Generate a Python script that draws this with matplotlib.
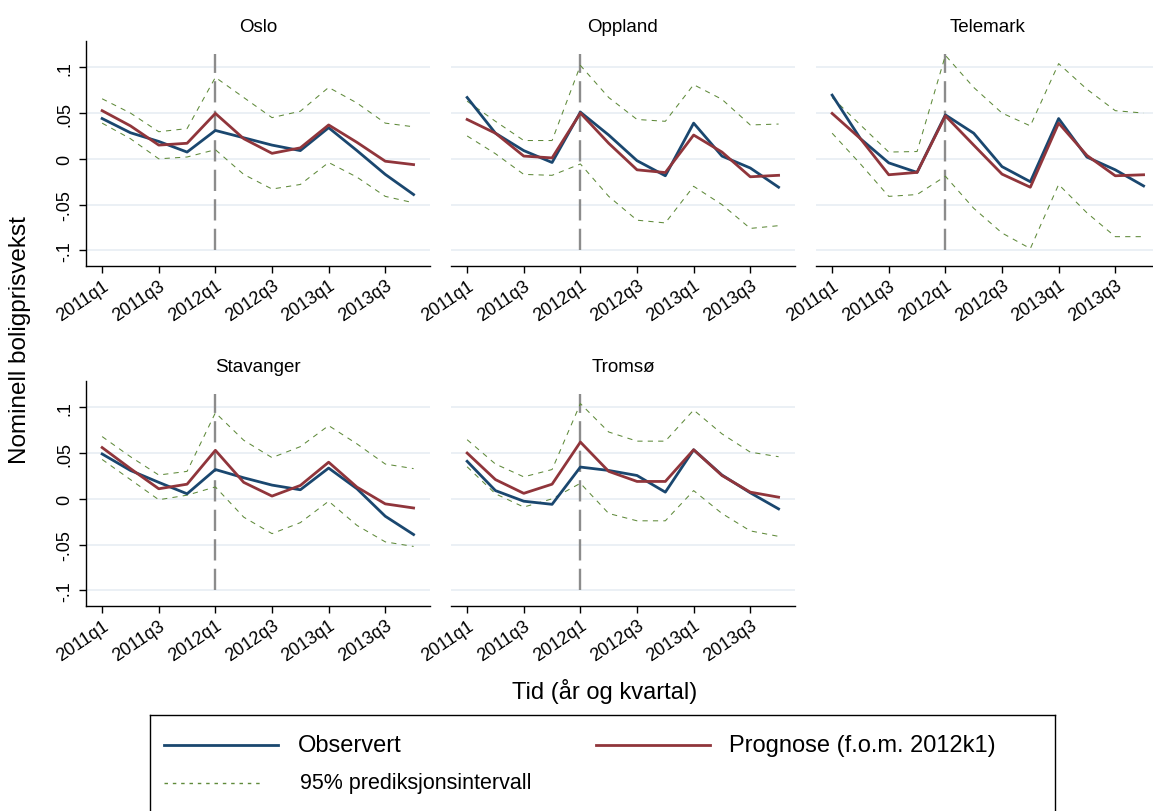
import matplotlib
matplotlib.use("Agg")
import matplotlib.pyplot as plt
import numpy as np

plt.rcParams['font.family'] = ['Liberation Sans', 'DejaVu Sans']

kvartaler = ['2011q1', '2011q2', '2011q3', '2011q4',
             '2012q1', '2012q2', '2012q3', '2012q4',
             '2013q1', '2013q2', '2013q3', '2013q4']
regioner = ['Oslo', 'Oppland', 'Telemark', 'Stavanger', 'Tromsø']
prognose_start = '2012q1'

observert = {
    'Oslo':      [0.044, 0.0285, 0.019, 0.0074, 0.031, 0.023, 0.015, 0.009, 0.034, 0.009, -0.017, -0.039],
    'Oppland':   [0.067, 0.028, 0.009, -0.004, 0.051, 0.026, -0.002, -0.0185, 0.039, 0.003, -0.010, -0.031],
    'Telemark':  [0.0696, 0.022, -0.0044, -0.0148, 0.048, 0.028, -0.0085, -0.025, 0.044, 0.0019, -0.012, -0.0296],
    'Stavanger': [0.049, 0.031, 0.018, 0.0055, 0.032, 0.023, 0.015, 0.0099, 0.0336, 0.011, -0.019, -0.039],
    'Tromsø':    [0.041, 0.009, -0.0026, -0.006, 0.0347, 0.031, 0.0255, 0.0073, 0.0536, 0.026, 0.0066, -0.011],
}
prognose = {
    'Oslo':      [0.0526, 0.036, 0.015, 0.017, 0.0496, 0.022, 0.006, 0.012, 0.037, 0.018, -0.0026, -0.0063],
    'Oppland':   [0.043, 0.028, 0.003, 0.001, 0.050, 0.017, -0.012, -0.015, 0.026, 0.0074, -0.0196, -0.018],
    'Telemark':  [0.0496, 0.022, -0.0174, -0.0148, 0.047, 0.015, -0.0167, -0.031, 0.039, 0.0037, -0.0185, -0.0174],
    'Stavanger': [0.056, 0.033, 0.011, 0.016, 0.053, 0.018, 0.003, 0.0146, 0.040, 0.0128, -0.0055, -0.010],
    'Tromsø':    [0.050, 0.021, 0.006, 0.016, 0.062, 0.030, 0.019, 0.019, 0.0536, 0.0255, 0.0073, 0.0018],
}
ovre = {
    'Oslo':      [0.0656, 0.050, 0.0296, 0.033, 0.089, 0.067, 0.045, 0.052, 0.078, 0.061, 0.039, 0.035],
    'Oppland':   [0.063, 0.041, 0.020, 0.020, 0.102, 0.067, 0.043, 0.041, 0.081, 0.065, 0.037, 0.038],
    'Telemark':  [0.067, 0.037, 0.0074, 0.008, 0.113, 0.078, 0.050, 0.036, 0.104, 0.076, 0.0526, 0.050],
    'Stavanger': [0.068, 0.046, 0.026, 0.030, 0.094, 0.064, 0.045, 0.057, 0.080, 0.060, 0.038, 0.033],
    'Tromsø':    [0.0646, 0.038, 0.024, 0.032, 0.104, 0.073, 0.063, 0.063, 0.097, 0.071, 0.051, 0.046],
}
nedre = {
    'Oslo':      [0.039, 0.022, 0.0, 0.002, 0.010, -0.017, -0.033, -0.028, -0.004, -0.020, -0.041, -0.048],
    'Oppland':   [0.025, 0.0056, -0.017, -0.018, -0.0056, -0.041, -0.067, -0.070, -0.030, -0.050, -0.076, -0.073],
    'Telemark':  [0.028, -0.0056, -0.041, -0.039, -0.019, -0.054, -0.081, -0.098, -0.028, -0.059, -0.085, -0.085],
    'Stavanger': [0.043, 0.021, -0.001, 0.004, 0.013, -0.020, -0.038, -0.026, -0.0026, -0.029, -0.047, -0.052],
    'Tromsø':    [0.035, 0.0055, -0.009, 0.0, 0.017, -0.016, -0.024, -0.024, 0.009, -0.016, -0.035, -0.041],
}

ytick_vals = [-0.1, -0.05, 0, 0.05, 0.1]
ytick_labels = ['-.1', '-.05', '0', '.05', '.1']

BLUE = '#1a476f'
RED = '#90353b'
GREEN = '#5f8a3a'
GRID = '#e7eef4'

W, H = 1153, 812
fig = plt.figure(figsize=(W / 100, H / 100), dpi=100)

# panel boxes in pixels: (left, top)
pw, ph = 344, 224.5
panel_pos = [(86, 42), (451, 42), (816, 42), (86, 382), (451, 382)]

x = np.arange(len(kvartaler))
xtick_idx = list(range(0, len(kvartaler), 2))
x_start = kvartaler.index(prognose_start)

for i, (reg, (px, py)) in enumerate(zip(regioner, panel_pos)):
    ax = fig.add_axes([px / W, 1 - (py + ph) / H, pw / W, ph / H])
    for v in ytick_vals:
        ax.axhline(v, color=GRID, lw=1.2, zorder=0)
    ax.vlines(x_start, -0.1, 0.115, color='#8c8c8c', lw=1.7,
              linestyles=(0, (9, 3.5)), zorder=1)
    ax.plot(x, ovre[reg], color=GREEN, lw=0.75, ls=(0, (5, 5)), zorder=2)
    ax.plot(x, nedre[reg], color=GREEN, lw=0.75, ls=(0, (5, 5)), zorder=2)
    ax.plot(x, observert[reg], color=BLUE, lw=2.0, zorder=3)
    ax.plot(x, prognose[reg], color=RED, lw=2.0, zorder=4)

    ax.set_xlim(-0.57, 11.58)
    ax.set_ylim(-0.1165, 0.1287)
    ax.set_title(reg, fontsize=13.5, pad=7)

    for s in ['top', 'right']:
        ax.spines[s].set_visible(False)
    ax.spines['bottom'].set_linewidth(1.0)
    ax.spines['left'].set_linewidth(1.0)

    ax.set_xticks(xtick_idx)
    ax.set_xticklabels([kvartaler[k] for k in xtick_idx], rotation=34,
                       ha='right', va='top', rotation_mode='anchor',
                       fontsize=13)
    ax.tick_params(axis='x', length=5, width=1.0, pad=3)

    if i % 3 == 0:
        ax.set_yticks(ytick_vals)
        ax.set_yticklabels(ytick_labels, rotation=90, va='center',
                           fontsize=13)
        ax.tick_params(axis='y', length=5, width=1.0, pad=4)
    else:
        ax.spines['left'].set_visible(False)
        ax.set_yticks([])

fig.text(20 / W, 1 - 340 / H, 'Nominell boligprisvekst', rotation=90,
         ha='center', va='center', fontsize=17.5)
fig.text(605 / W, 1 - 691 / H, 'Tid (år og kvartal)', ha='center',
         va='center', fontsize=17)

# legend box, pixel coordinates
lg = fig.add_axes([150 / W, 1 - 840 / H, 905 / W, 124 / H])
lg.set_xlim(150, 1055)
lg.set_ylim(840, 716)
lg.set_xticks([])
lg.set_yticks([])
for s in lg.spines.values():
    s.set_linewidth(1.0)
lg.plot([164, 278], [746, 746], color=BLUE, lw=2.0)
lg.text(298, 746, 'Observert', fontsize=17, va='center')
lg.plot([596, 710], [746, 746], color=RED, lw=2.0)
lg.text(729, 746, 'Prognose (f.o.m. 2012k1)', fontsize=17, va='center')
lg.plot([164, 264], [784, 784], color=GREEN, lw=1.0, ls=(0, (2.5, 3.5)))
lg.text(300, 784, '95% prediksjonsintervall', fontsize=15.5, va='center')

fig.savefig('out.png', dpi=100)
